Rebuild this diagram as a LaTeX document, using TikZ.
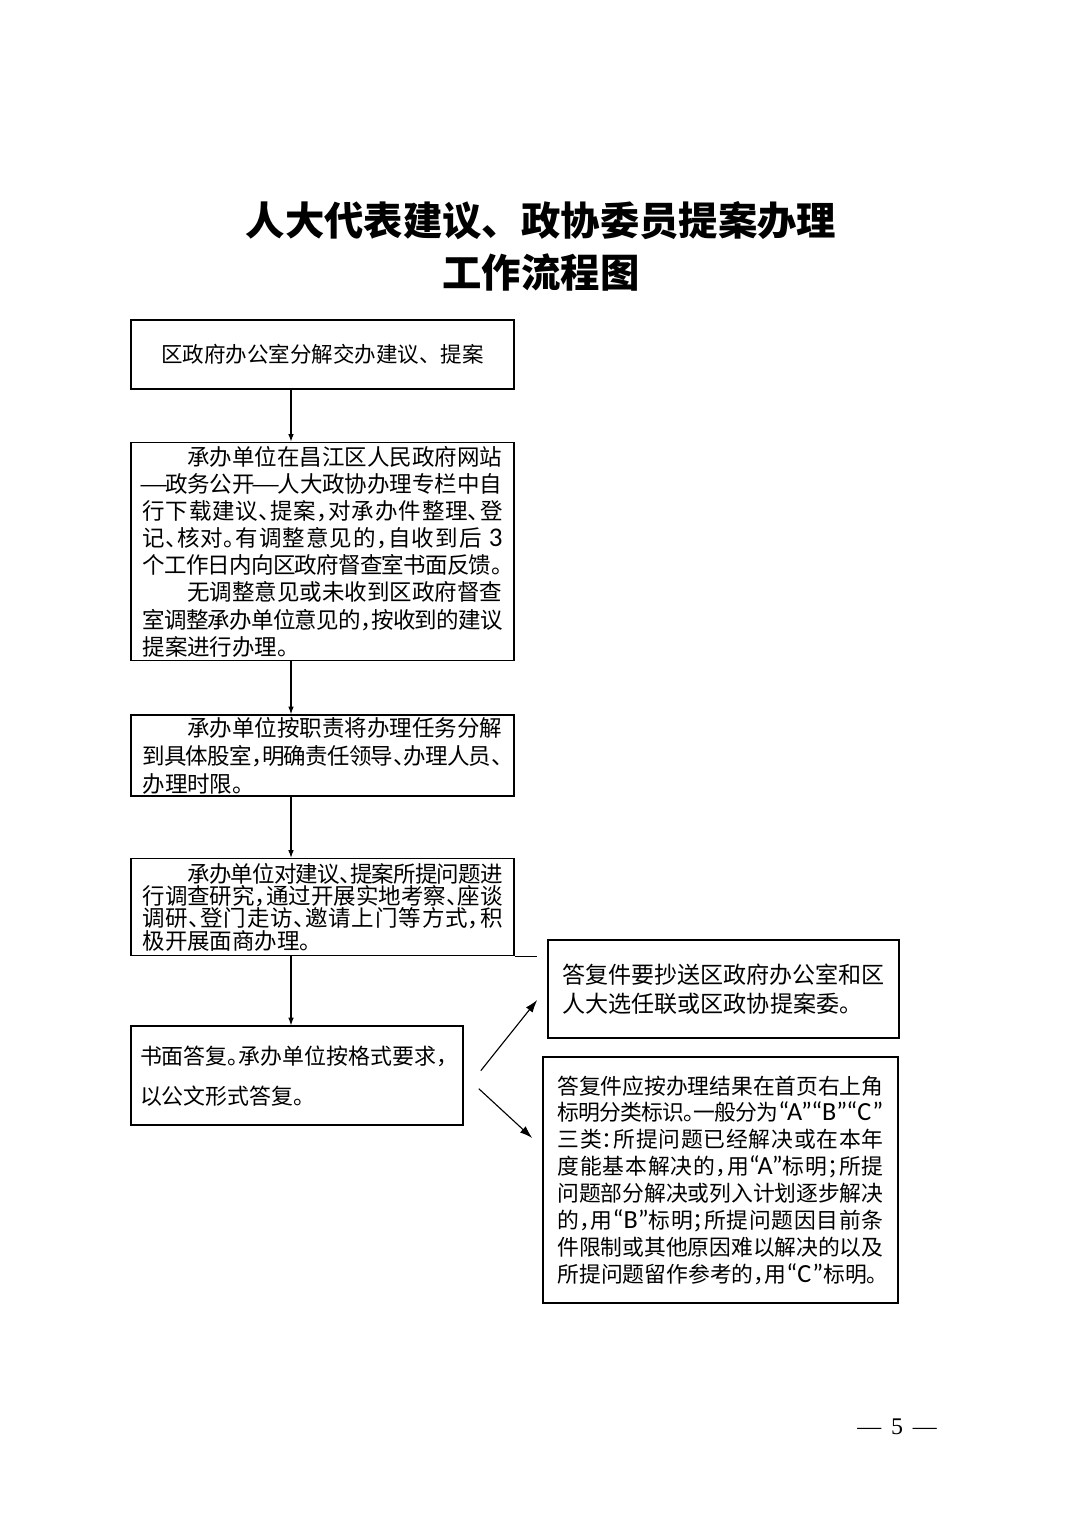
\documentclass[tikz,border=0pt]{standalone}
\usepackage{fontspec}
\setmainfont{Noto Sans CJK SC}[RawFeature=+halt]
\newfontfamily\fullwidth{Noto Sans CJK SC}
\newfontfamily\latin{Carlito}[Scale=1.2]
\newfontfamily\pagefont{Liberation Serif}
\usetikzlibrary{arrows.meta,positioning}
\XeTeXlinebreaklocale "zh"
\XeTeXlinebreakskip=0pt plus 2pt minus 1pt
\newlength\pxu
\setlength\pxu{0.025cm}
\newcommand\longdash{\makebox[1em]{\scalebox{1.45}[1]{—}}}

\begin{document}
\begin{tikzpicture}[
  x=0.025cm, y=-0.025cm,
  box/.style={draw, line width=1.1pt, inner sep=0pt, align=justify},
  link/.style={-{Latex[length=5.5pt,width=4pt]}, line width=0.8pt},
  slant/.style={-{Latex[length=9pt,width=6pt]}, line width=0.8pt}
]
  \useasboundingbox (0,0) rectangle (1074,1520);

  % title
  \node[font=\fullwidth\bfseries\fontsize{28}{37}\selectfont, align=center]
    (title) at (541,246) {人大代表建议、政协委员提案办理\\工作流程图};

  % main column
  \node[box, minimum width=383\pxu, minimum height=69\pxu,
        font=\fullwidth\fontsize{15.3}{18}\selectfont] (b1) at (322.5,354.5)
    {区政府办公室分解交办建议、提案};
  \node[box, below=52\pxu of b1, minimum width=383\pxu, minimum height=218\pxu,
        text width=360\pxu, font=\fontsize{16}{19.3}\selectfont] (b2)
    {\hspace*{2em}承办单位在昌江区人民政府网站\linebreak
     \longdash 政务公开\longdash 人大政协办理专栏中自\linebreak
     行下载建议、提案，对承办件整理、登\linebreak
     记、核对。有调整意见的，自收到后{\latin\ 3}\linebreak
     个工作日内向区政府督查室书面反馈。\linebreak
     \hspace*{2em}无调整意见或未收到区政府督查\linebreak
     室调整承办单位意见的，按收到的建议\linebreak
     提案进行办理。};
  \node[box, below=53\pxu of b2, minimum width=383\pxu, minimum height=81\pxu,
        text width=360\pxu, font=\fontsize{16}{19.9}\selectfont] (b3)
    {\hspace*{2em}承办单位按职责将办理任务分解\linebreak
     到具体股室，明确责任领导、办理人员、\linebreak
     办理时限。};
  \node[box, below=61\pxu of b3, minimum width=383\pxu, minimum height=97\pxu,
        text width=360\pxu, font=\fontsize{16}{15.9}\selectfont] (b4)
    {\hspace*{2em}承办单位对建议、提案所提问题进\linebreak
     行调查研究，通过开展实地考察、座谈\linebreak
     调研、登门走访、邀请上门等方式，积\linebreak
     极开展面商办理。};
  \node[box, below=69\pxu of b4.south west, anchor=north west,
        minimum width=332\pxu, minimum height=99\pxu, text width=314\pxu,
        align=left, font=\fontsize{15.6}{28.5}\selectfont] (b5)
    {书面答复。承办单位按格式要求，\\以公文形式答复。};

  % replies
  \node[box, minimum width=351\pxu, minimum height=98\pxu, text width=322\pxu,
        font=\fontsize{16.4}{20.6}\selectfont] (b6) at (723.5,989)
    {答复件要抄送区政府办公室和区\linebreak
     人大选任联或区政协提案委。\par\vspace*{26\pxu}};
  \node[box, minimum width=355\pxu, minimum height=246\pxu, text width=326\pxu,
        font=\fontsize{15.5}{19.1}\selectfont] (b7) at (720.5,1180)
    {答复件应按办理结果在首页右上角\linebreak
     标明分类标识。一般分为{\latin “A”“B”“C”}\linebreak
     三类：所提问题已经解决或在本年\linebreak
     度能基本解决的，用{\latin “A”}标明；所提\linebreak
     问题部分解决或列入计划逐步解决\linebreak
     的，用{\latin “B”}标明；所提问题因目前条\linebreak
     件限制或其他原因难以解决的以及\linebreak
     所提问题留作参考的，用{\latin “C”}标明。};

  % connectors
  \coordinate (spine) at (291,0);
  \foreach \a/\b in {b1/b2,b2/b3,b3/b4,b4/b5}
    \draw[link] (\a.south -| spine) -- (\b.north -| spine);
  \coordinate (stub) at ([xshift=22\pxu]b4.south east);
  \draw[line width=0.8pt] (b4.south east) -- (stub);
  \draw[slant] ([shift={(17,-5)}]b5.east) -- ([shift={(-10,11)}]b6.west);
  \draw[slant] ([shift={(15,13)}]b5.east) -- ([shift={(-10,-42)}]b7.west);

  % page number
  \node[font=\pagefont\fontsize{17}{20}\selectfont] (page) at (897,1427)
    {—\hspace{7pt}5\hspace{7pt}—};
\end{tikzpicture}
\end{document}
